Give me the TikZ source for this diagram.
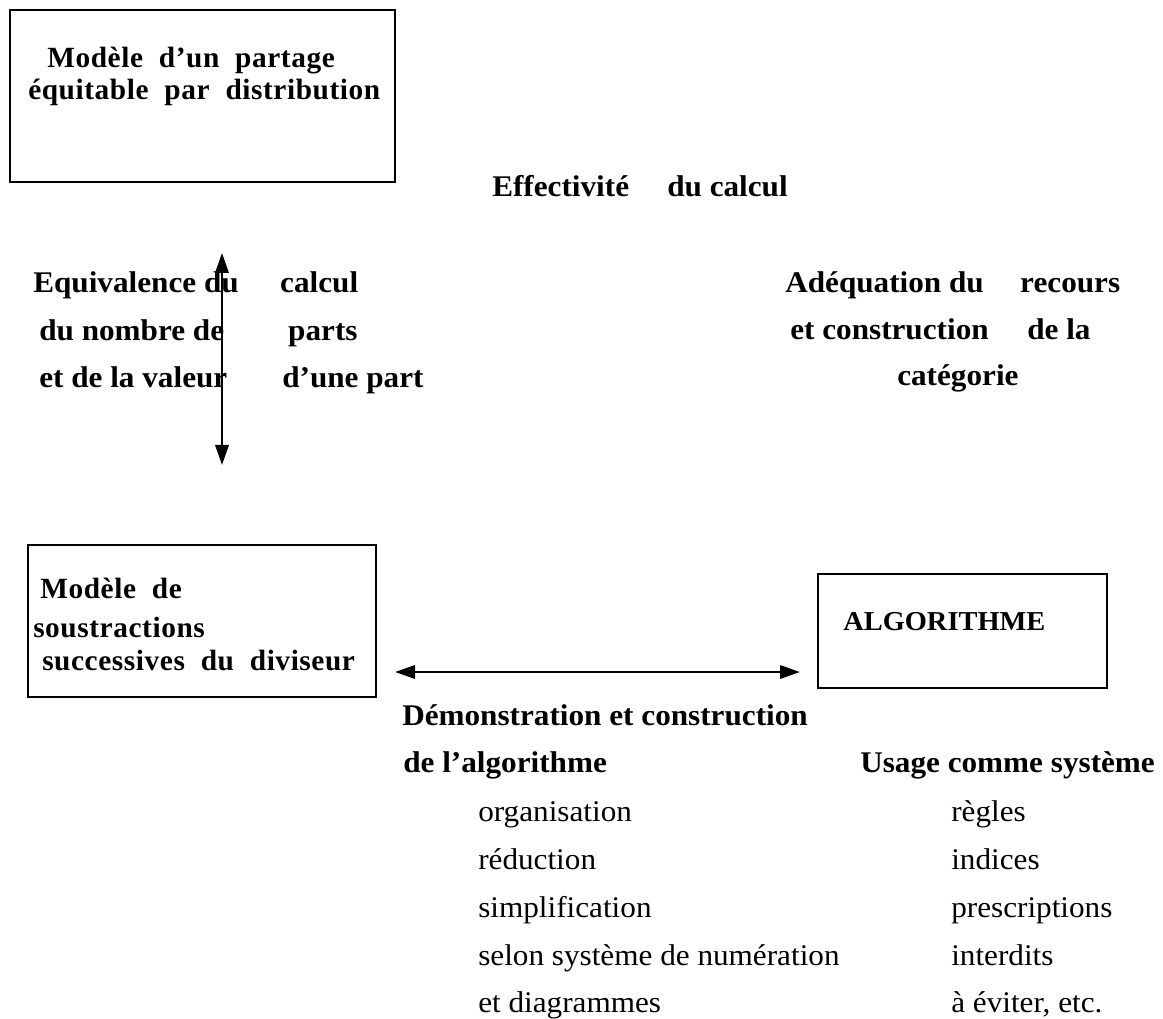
\documentclass[tikz,border=0pt]{standalone}
\usepackage{fontspec}
\setmainfont{Liberation Serif}[FakeStretch=1.04]
\newfontfamily\boxfont{Liberation Serif}[LetterSpace=2, WordSpace=2]
\usepackage{tikz}
\usetikzlibrary{arrows.meta, positioning}

\tikzset{
  boite/.style={rectangle, draw, line width=1.8pt},
  titre/.style={anchor=base west, inner sep=0pt, font=\fontsize{22.5}{27}\selectfont\bfseries},
  liste/.style={anchor=base west, inner sep=0pt, font=\fontsize{22.5}{27}\selectfont},
  dansboite/.style={anchor=base west, inner sep=0pt, font=\boxfont\fontsize{22}{26}\selectfont\bfseries},
  fleche/.style={{Triangle[length=15pt,width=10pt]}-{Triangle[length=15pt,width=10pt]}, line width=1.8pt}
}

\begin{document}
\begin{tikzpicture}[x=0.75pt, y=-0.75pt]
    \useasboundingbox (0,0) rectangle (1163,1019);
    % les trois cadres
    \node (partage) [boite, minimum width=288.75pt, minimum height=129pt] at (202.5,96) {};
    \node (soustraction) [boite, minimum width=261pt, minimum height=114pt] at (202,621) {};
    \node (algo) [boite, minimum width=216.75pt, minimum height=85.5pt] at (962.5,631) {};
    \node (partage1) [dansboite] at (47,68) {Modèle d’un partage};
    \node (partage2) [dansboite] at (28,100) {équitable par distribution};
    \node (soustr1) [dansboite] at (40,598) {Modèle de};
    \node (soustr2) [dansboite] at (33,637) {soustractions};
    \node (soustr3) [dansboite] at (42,670) {successives du diviseur};
    \node (algotxt) [titre, font=\fontsize{20.5}{24}\selectfont\bfseries] at (843,630) {ALGORITHME};
    % libellés
    \node (effectivite) [titre] at (492,197) {\makebox[131.25pt][l]{Effectivité}du calcul};
    \node (equiv1) [titre] at (33,293) {\makebox[185.25pt][l]{Equivalence du}calcul};
    \node (equiv2) [titre] at (39,341) {\makebox[186.75pt][l]{du nombre de}parts};
    \node (equiv3) [titre] at (39,388) {\makebox[182.25pt][l]{et de la valeur}d’une part};
    \node (adeq1) [titre] at (785,293) {\makebox[176.25pt][l]{Adéquation du}recours};
    \node (adeq2) [titre] at (790,340) {\makebox[177.75pt][l]{et construction}de la};
    \node (adeq3) [titre] at (897,386) {catégorie};
    \node (demo1) [titre] at (402,725) {Démonstration et construction};
    \node (demo2) [titre] at (403,772) {de l’algorithme};
    \node (usage) [titre] at (860,772) {Usage comme système};
    \node (organisation) [liste] at (478,821) {organisation};
    \node (reduction) [liste] at (478,869) {réduction};
    \node (simplification) [liste] at (478,917) {simplification};
    \node (selon) [liste] at (478,965) {selon système de numération};
    \node (diagrammes) [liste] at (478,1012) {et diagrammes};
    \node (regles) [liste] at (951,821) {règles};
    \node (indices) [liste] at (951,869) {indices};
    \node (prescriptions) [liste] at (951,917) {prescriptions};
    \node (interdits) [liste] at (951,965) {interdits};
    \node (eviter) [liste] at (951,1012) {à éviter, etc.};
    % flèches
    \coordinate (haut) at (222,253);
    \coordinate (bas) at (222,465);
    \coordinate (gauche) at (395,672);
    \coordinate (droite) at (800,672);
    \draw[fleche] (haut) -- (bas);
    \draw[fleche] (gauche) -- (droite);
\end{tikzpicture}
\end{document}
